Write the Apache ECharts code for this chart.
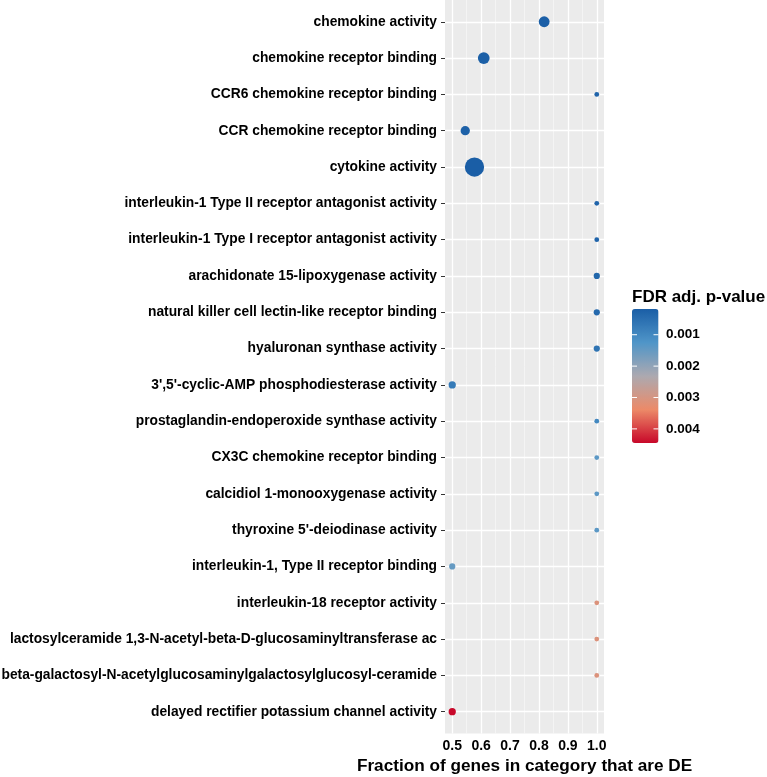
<!DOCTYPE html>
<html>
<head>
<meta charset="utf-8">
<script src="https://cdn.jsdelivr.net/npm/echarts@6/dist/echarts.min.js"></script>
<style>
html,body{margin:0;padding:0;background:#fff;}
#chart{width:767px;height:777px;}
</style>
</head>
<body>
<div id="chart"></div>
<script>
const categories = [
  "chemokine activity",
  "chemokine receptor binding",
  "CCR6 chemokine receptor binding",
  "CCR chemokine receptor binding",
  "cytokine activity",
  "interleukin-1 Type II receptor antagonist activity",
  "interleukin-1 Type I receptor antagonist activity",
  "arachidonate 15-lipoxygenase activity",
  "natural killer cell lectin-like receptor binding",
  "hyaluronan synthase activity",
  "3',5'-cyclic-AMP phosphodiesterase activity",
  "prostaglandin-endoperoxide synthase activity",
  "CX3C chemokine receptor binding",
  "calcidiol 1-monooxygenase activity",
  "thyroxine 5'-deiodinase activity",
  "interleukin-1, Type II receptor binding",
  "interleukin-18 receptor activity",
  "lactosylceramide 1,3-N-acetyl-beta-D-glucosaminyltransferase ac",
  "beta-galactosyl-N-acetylglucosaminylgalactosylglucosyl-ceramide",
  "delayed rectifier potassium channel activity"
];
const fractionDE = [0.818, 0.609, 1.0, 0.545, 0.577, 1.0, 1.0, 1.0, 1.0, 1.0,
                    0.5, 1.0, 1.0, 1.0, 1.0, 0.5, 1.0, 1.0, 1.0, 0.5];
const fdrPValue = [0.00020, 0.00022, 0.00030, 0.00024, 0.00018, 0.00030, 0.00030, 0.00035, 0.00040, 0.00060,
                   0.00075, 0.00100, 0.00140, 0.00140, 0.00140, 0.00150, 0.00310, 0.00310, 0.00310, 0.00445];
const geneCount = [19, 25, 1, 11, 105, 1, 1, 2, 2, 2,
                   4, 1, 1, 1, 1, 2, 1, 1, 1, 4];
const xTicks = [0.5, 0.6, 0.7, 0.8, 0.9, 1.0];
const xMinorTicks = [0.55, 0.65, 0.75, 0.85, 0.95];
const fdrTicks = [0.001, 0.002, 0.003, 0.004];
const fdrMin = 0.00018, fdrMax = 0.00445;

const FONT = "'Liberation Sans', Arial, Helvetica, sans-serif";
const gridL = 445, gridR = 604, gridT = 0, gridB = 733.5;
const cbLeft = 632, cbTop = 309, cbW = 26.5, cbH = 134;
const cMin = Math.min(...geneCount), cMax = Math.max(...geneCount);
function sizeScale(c) { return 4.8 + 14.5 * Math.sqrt((c - cMin) / (cMax - cMin)); }

const chart = echarts.init(document.getElementById('chart'), null, {renderer: 'canvas'});
const rowIdx = categories.map((c, i) => i);
const points = categories.map((c, i) => [fractionDE[i], i, fdrPValue[i], geneCount[i]]);

const gridLines = [].concat(
  xMinorTicks.map(v => ({xAxis: v, lineStyle: {width: 0.6, color: '#fafafa'}})),
  xTicks.map(v => ({xAxis: v, lineStyle: {width: 1.3, color: '#ffffff'}})),
  rowIdx.map(i => ({yAxis: i, lineStyle: {width: 1.3, color: '#ffffff'}}))
);

const graphics = [
  {type: 'text', x: (gridL + gridR) / 2, y: 766, style: {text: 'Fraction of genes in category that are DE', font: 'bold 17.2px ' + FONT, fill: '#000', textAlign: 'center', textVerticalAlign: 'middle'}},
  {type: 'text', x: cbLeft, y: 297, style: {text: 'FDR adj. p-value', font: 'bold 17px ' + FONT, fill: '#000', textAlign: 'left', textVerticalAlign: 'middle'}, z: 10}
];
fdrTicks.forEach(v => {
  const y = cbTop + (v - fdrMin) / (fdrMax - fdrMin) * cbH;
  graphics.push({type: 'text', x: 666, y: y, style: {text: v.toFixed(3), font: 'bold 13.5px ' + FONT, fill: '#000', textAlign: 'left', textVerticalAlign: 'middle'}, z: 10});
  graphics.push({type: 'line', shape: {x1: cbLeft, y1: y, x2: cbLeft + 5, y2: y}, style: {stroke: '#ffffff', lineWidth: 1}, z: 100});
  graphics.push({type: 'line', shape: {x1: cbLeft + cbW - 5, y1: y, x2: cbLeft + cbW, y2: y}, style: {stroke: '#ffffff', lineWidth: 1}, z: 100});
});

chart.setOption({
  animation: false,
  backgroundColor: '#ffffff',
  grid: {left: gridL, top: gridT, width: gridR - gridL, height: gridB - gridT, show: true, backgroundColor: '#EBEBEB', borderWidth: 0, containLabel: false, outerBoundsMode: 'none'},
  xAxis: {
    type: 'value', min: 0.475, max: 1.025,
    axisLine: {show: false},
    splitLine: {show: false},
    axisTick: {show: true, customValues: xTicks, length: 4, lineStyle: {color: '#333', width: 1}},
    axisLabel: {customValues: xTicks, formatter: v => Number(v).toFixed(1), fontFamily: FONT, fontWeight: 'bold', fontSize: 14, color: '#000', margin: 6}
  },
  yAxis: {
    type: 'value', inverse: true, min: -0.6, max: 19.6,
    axisLine: {show: false},
    splitLine: {show: false},
    axisTick: {show: true, customValues: rowIdx, length: 4, lineStyle: {color: '#333', width: 1}},
    axisLabel: {customValues: rowIdx, formatter: v => categories[Math.round(v)], fontFamily: FONT, fontWeight: 'bold', fontSize: 13.8, color: '#000', margin: 8}
  },
  visualMap: {
    type: 'continuous', show: true, seriesIndex: 1, dimension: 2,
    min: fdrMin, max: fdrMax, inverse: true, calculable: false,
    orient: 'vertical', left: cbLeft, top: cbTop, itemWidth: cbW, itemHeight: cbH,
    padding: 0, text: null, showLabel: false,
    inRange: {color: ['#1A5EA6', '#4F95C8', '#ACA9B0', '#EC8A68', '#C8082A']}
  },
  graphic: graphics,
  series: [
    {type: 'scatter', data: [], silent: true, z: 1,
     markLine: {silent: true, symbol: ['none', 'none'], label: {show: false}, lineStyle: {type: 'solid'}, data: gridLines, animation: false}},
    {type: 'scatter', data: points, z: 5, encode: {x: 0, y: 1},
     symbolSize: val => sizeScale(val[3]), itemStyle: {opacity: 1}}
  ]
});
</script>
</body>
</html>
